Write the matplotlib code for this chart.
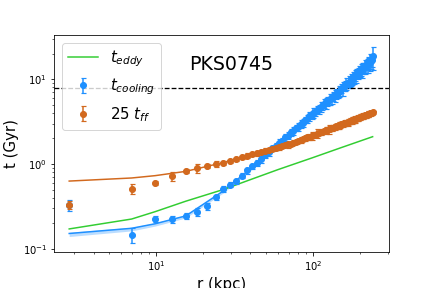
import numpy as np
import matplotlib
matplotlib.use("Agg")
import matplotlib.pyplot as plt

# ---- data ----
r_kpc = [2.8, 7.0, 9.9, 12.7, 15.5, 18.3, 21.1, 24.0, 26.8, 29.7,
         32.5, 35.4, 38.2, 41.1, 43.9, 46.8, 49.6, 52.5, 55.3, 58.2,
         61.0, 63.9, 66.7, 69.6, 72.4, 75.3, 78.1, 81.0, 83.8, 86.7,
         89.5, 92.4, 95.2, 98.1, 100.9, 103.8, 106.6, 109.5, 112.3, 115.2,
         118.0, 120.9, 123.7, 126.6, 129.4, 132.3, 135.1, 138.0, 140.8, 143.7,
         146.5, 149.4, 152.2, 155.1, 157.9, 160.8, 163.6, 166.5, 169.3, 172.2,
         175.0, 177.9, 180.7, 183.6, 186.4, 189.3, 192.1, 195.0, 197.8, 200.7,
         203.5, 206.4, 209.2, 212.1, 214.9, 217.8, 220.6, 223.5, 226.3, 229.2,
         232.0, 234.9, 237.7, 240.6]

t_cool = [0.33, 0.146, 0.225, 0.225, 0.245, 0.275, 0.32, 0.405, 0.51, 0.57,
          0.625, 0.73, 0.84, 0.94, 1.04, 1.14, 1.29, 1.38, 1.53, 1.62,
          1.79, 1.89, 2.07, 2.16, 2.36, 2.45, 2.66, 2.75, 2.98, 3.06,
          3.31, 3.40, 3.66, 3.74, 4.01, 4.09, 4.39, 4.45, 4.76, 4.82,
          5.16, 5.21, 5.55, 5.62, 5.83, 5.92, 6.30, 6.36, 6.77, 6.82,
          7.26, 7.30, 7.75, 7.82, 8.26, 8.32, 8.81, 8.84, 9.36, 9.38,
          9.89, 9.90, 10.5, 10.5, 11.1, 11.1, 11.7, 11.7, 12.3, 12.3,
          12.9, 12.9, 13.6, 13.6, 14.2, 14.2, 14.9, 14.9, 15.5, 15.5,
          16.1, 16.2, 16.9, 18.5]

t_cool_relerr = [0.15, 0.20, 0.08, 0.09, 0.08, 0.10, 0.09, 0.08, 0.07, 0.07,
                 0.08, 0.07, 0.08, 0.07, 0.08, 0.09, 0.08, 0.09, 0.08, 0.10,
                 0.09, 0.08, 0.10, 0.09, 0.10, 0.11, 0.09, 0.10, 0.12, 0.10,
                 0.09, 0.11, 0.12, 0.10, 0.13, 0.11, 0.10, 0.12, 0.14, 0.11,
                 0.12, 0.15, 0.12, 0.11, 0.14, 0.13, 0.12, 0.16, 0.13, 0.12,
                 0.15, 0.14, 0.12, 0.18, 0.13, 0.14, 0.16, 0.12, 0.15, 0.14,
                 0.17, 0.13, 0.15, 0.16, 0.14, 0.18, 0.13, 0.15, 0.17, 0.14,
                 0.16, 0.19, 0.15, 0.14, 0.18, 0.16, 0.15, 0.20, 0.17, 0.16,
                 0.22, 0.18, 0.17, 0.30]

t_ff25 = [0.33, 0.51, 0.60, 0.72, 0.83, 0.90, 0.95, 1.00, 1.03, 1.08,
          1.15, 1.20, 1.25, 1.30, 1.34, 1.39, 1.43, 1.47, 1.51, 1.55,
          1.59, 1.63, 1.66, 1.70, 1.73, 1.78, 1.83, 1.88, 1.92, 1.99,
          2.01, 2.06, 2.10, 2.15, 2.19, 2.22, 2.28, 2.32, 2.36, 2.40,
          2.45, 2.49, 2.53, 2.57, 2.61, 2.65, 2.69, 2.73, 2.77, 2.81,
          2.85, 2.89, 2.93, 2.97, 3.01, 3.04, 3.08, 3.12, 3.16, 3.20,
          3.24, 3.27, 3.31, 3.35, 3.38, 3.42, 3.46, 3.49, 3.53, 3.57,
          3.61, 3.64, 3.68, 3.72, 3.74, 3.78, 3.82, 3.85, 3.89, 3.92,
          3.95, 3.99, 4.03, 4.06]

t_ff25_relerr = [0.10, 0.13, 0.05, 0.12, 0.06, 0.12, 0.06, 0.08, 0.05, 0.05,
                 0.06, 0.05, 0.07, 0.05, 0.06, 0.05, 0.07, 0.06, 0.05, 0.06,
                 0.07, 0.06, 0.05, 0.08, 0.06, 0.07, 0.05, 0.06, 0.09, 0.06,
                 0.07, 0.06, 0.08, 0.10, 0.06, 0.07, 0.12, 0.06, 0.08, 0.07,
                 0.06, 0.09, 0.07, 0.11, 0.06, 0.08, 0.07, 0.09, 0.06, 0.08,
                 0.10, 0.07, 0.06, 0.09, 0.07, 0.08, 0.06, 0.10, 0.07, 0.08,
                 0.06, 0.09, 0.07, 0.08, 0.10, 0.06, 0.07, 0.09, 0.06, 0.08,
                 0.07, 0.06, 0.08, 0.07, 0.06, 0.07, 0.05, 0.06, 0.07, 0.05,
                 0.06, 0.05, 0.06, 0.05]

# model curves
r_model = [2.8, 7.0, 9.9, 15.5, 26.8, 40.0, 60.0, 100.0, 150.0, 240.6]
t_eddy = [0.172, 0.225, 0.275, 0.365, 0.50, 0.655, 0.86, 1.19, 1.55, 2.10]
t_ff_model = [0.63, 0.685, 0.73, 0.82, 1.04, 1.28, 1.60, 2.15, 2.85, 4.0]
t_cool_model = [0.152, 0.175, 0.198, 0.245, 0.48, 0.88, 1.72, 3.9, 7.4, 17.0]
t_cool_model_lo = [0.140, 0.163, 0.186, 0.232, 0.455, 0.83, 1.62, 3.7, 7.0, 16.0]
t_cool_model_hi = [0.157, 0.180, 0.203, 0.252, 0.495, 0.91, 1.77, 4.0, 7.6, 17.5]

t_threshold = 7.8
title = "PKS0745"

# ---- plot ----
fig = plt.figure(figsize=(6, 4), dpi=72)
ax = fig.add_axes([0.125, 0.125, 0.775, 0.753])

c_blue = "#1E90FF"
c_orange = "#D2691E"
c_green = "#32CD32"

r = np.array(r_kpc)
tc = np.array(t_cool)
tf = np.array(t_ff25)

ax.fill_between(r_model, t_cool_model_lo, t_cool_model_hi, color=c_blue, alpha=0.3, lw=0)
ax.plot(r_model, t_cool_model, color=c_blue, lw=1.5)
ax.plot(r_model, t_ff_model, color=c_orange, lw=1.5)
ax.plot(r_model, t_eddy, color=c_green, lw=1.5, label=r"$t_{eddy}$")

ax.errorbar(r, tc, yerr=tc * np.array(t_cool_relerr), fmt="o", color=c_blue,
            ms=6, capsize=2.5, elinewidth=1.5, capthick=1.2, label=r"$t_{cooling}$")
ax.errorbar(r, tf, yerr=tf * np.array(t_ff25_relerr), fmt="o", color=c_orange,
            ms=6, capsize=2.5, elinewidth=1.5, capthick=1.2, label=r"25 $t_{ff}$")

ax.axhline(t_threshold, color="k", ls="--", lw=1.3)

ax.set_xscale("log")
ax.set_yscale("log")
ax.set_xlim(2.24, 305)
ax.set_ylim(0.092, 33)

ax.text(0.405, 0.865, title, transform=ax.transAxes, fontsize=19, va="center")
ax.set_xlabel("r (kpc)", fontsize=15)
ax.set_ylabel("t (Gyr)", fontsize=15)
ax.legend(loc="upper left", fontsize=15)

fig.savefig("out.png", dpi=72)
